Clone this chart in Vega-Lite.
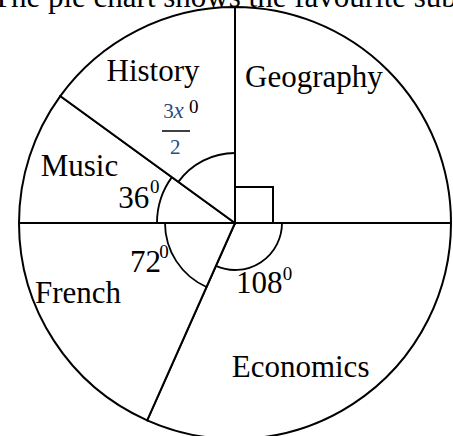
{
  "$schema": "https://vega.github.io/schema/vega-lite/v6.json",
  "width": 453,
  "height": 436,
  "padding": 0,
  "autosize": {"type": "none"},
  "background": "white",
  "config": {"view": {"stroke": null}},
  "datasets": {
    "sectors": [
      {"subject": "Geography", "angle": 90, "o": 1},
      {"subject": "Economics", "angle": 114, "o": 2},
      {"subject": "French", "angle": 66, "o": 3},
      {"subject": "Music", "angle": 36, "o": 4},
      {"subject": "History", "angle": 54, "o": 5}
    ],
    "arcs70": [
      {"angle": "3x/2", "from": 306, "to": 360},
      {"angle": "72", "from": 204, "to": 270}
    ],
    "arcs77": [
      {"angle": "36", "from": 270, "to": 306}
    ],
    "arcs47": [
      {"angle": "108", "from": 90, "to": 204}
    ],
    "square": [
      {"x0": 0, "x1": 38, "y0": 0, "y1": 36}
    ],
    "bar": [
      {"x0": -73, "x1": -45, "y0": 92}
    ],
    "texts": [
      {"kind": "main", "text": "The pie chart shows the favourite subjects of", "lx": -243, "ly": 216},
      {"kind": "main", "text": "History", "lx": -128.5, "ly": 142.3},
      {"kind": "main", "text": "Geography", "lx": 10, "ly": 136},
      {"kind": "main", "text": "Music", "lx": -194.3, "ly": 47},
      {"kind": "main", "text": "36", "lx": -116.7, "ly": 14.7},
      {"kind": "main", "text": "72", "lx": -105, "ly": -49},
      {"kind": "main", "text": "French", "lx": -200, "ly": -80},
      {"kind": "main", "text": "108", "lx": 1, "ly": -69.7},
      {"kind": "main", "text": "Economics", "lx": -3.3, "ly": -153.7},
      {"kind": "sup", "text": "0", "lx": -85, "ly": 30},
      {"kind": "sup", "text": "0", "lx": -75.7, "ly": -35},
      {"kind": "sup", "text": "0", "lx": 47.7, "ly": -57},
      {"kind": "sup", "text": "0", "lx": -46, "ly": 109.7},
      {"kind": "frac", "text": "3", "lx": -71.7, "ly": 104.7},
      {"kind": "fracx", "text": "x", "lx": -61.5, "ly": 104.7},
      {"kind": "frac", "text": "2", "lx": -65, "ly": 69}
    ]
  },
  "layer": [
    {
      "data": {"name": "sectors"},
      "mark": {"type": "arc", "outerRadius": 216, "fill": "white", "stroke": "black", "strokeWidth": 2},
      "encoding": {
        "x": {"datum": 0, "type": "quantitative", "scale": {"domain": [-235, 218], "nice": false, "zero": false}, "axis": null},
        "y": {"datum": 0, "type": "quantitative", "scale": {"domain": [-213, 223], "nice": false, "zero": false}, "axis": null},
        "theta": {"field": "angle", "type": "quantitative", "stack": true, "scale": {"domain": [0, 360]}},
        "order": {"field": "o", "type": "quantitative"}
      }
    },
    {
      "data": {"name": "arcs70"},
      "mark": {"type": "arc", "outerRadius": 70, "innerRadius": 70, "fill": "transparent", "stroke": "black", "strokeWidth": 1.8},
      "encoding": {
        "x": {"datum": 0, "type": "quantitative"},
        "y": {"datum": 0, "type": "quantitative"},
        "theta": {"field": "from", "type": "quantitative", "stack": null, "scale": {"domain": [0, 360]}},
        "theta2": {"field": "to"}
      }
    },
    {
      "data": {"name": "arcs77"},
      "mark": {"type": "arc", "outerRadius": 78, "innerRadius": 78, "fill": "transparent", "stroke": "black", "strokeWidth": 1.8},
      "encoding": {
        "x": {"datum": 0, "type": "quantitative"},
        "y": {"datum": 0, "type": "quantitative"},
        "theta": {"field": "from", "type": "quantitative", "stack": null, "scale": {"domain": [0, 360]}},
        "theta2": {"field": "to"}
      }
    },
    {
      "data": {"name": "arcs47"},
      "mark": {"type": "arc", "outerRadius": 47, "innerRadius": 47, "fill": "transparent", "stroke": "black", "strokeWidth": 1.8},
      "encoding": {
        "x": {"datum": 0, "type": "quantitative"},
        "y": {"datum": 0, "type": "quantitative"},
        "theta": {"field": "from", "type": "quantitative", "stack": null, "scale": {"domain": [0, 360]}},
        "theta2": {"field": "to"}
      }
    },
    {
      "data": {"name": "square"},
      "mark": {"type": "rect", "fill": "transparent", "stroke": "black", "strokeWidth": 2},
      "encoding": {
        "x": {"field": "x0", "type": "quantitative"},
        "x2": {"field": "x1"},
        "y": {"field": "y0", "type": "quantitative"},
        "y2": {"field": "y1"}
      }
    },
    {
      "data": {"name": "bar"},
      "mark": {"type": "rule", "stroke": "black", "strokeWidth": 1.5},
      "encoding": {
        "x": {"field": "x0", "type": "quantitative"},
        "x2": {"field": "x1"},
        "y": {"field": "y0", "type": "quantitative"}
      }
    },
    {
      "data": {"name": "texts"},
      "transform": [{"filter": "datum.kind === 'main'"}],
      "mark": {"type": "text", "font": "Liberation Serif", "fontSize": 31, "align": "left", "baseline": "alphabetic", "color": "black"},
      "encoding": {
        "x": {"field": "lx", "type": "quantitative"},
        "y": {"field": "ly", "type": "quantitative"},
        "text": {"field": "text"}
      }
    },
    {
      "data": {"name": "texts"},
      "transform": [{"filter": "datum.kind === 'sup'"}],
      "mark": {"type": "text", "font": "Liberation Serif", "fontSize": 19, "align": "left", "baseline": "alphabetic", "color": "black"},
      "encoding": {
        "x": {"field": "lx", "type": "quantitative"},
        "y": {"field": "ly", "type": "quantitative"},
        "text": {"field": "text"}
      }
    },
    {
      "data": {"name": "texts"},
      "transform": [{"filter": "datum.kind === 'frac'"}],
      "mark": {"type": "text", "font": "Liberation Serif", "fontSize": 21, "align": "left", "baseline": "alphabetic", "color": "#2b4c7e"},
      "encoding": {
        "x": {"field": "lx", "type": "quantitative"},
        "y": {"field": "ly", "type": "quantitative"},
        "text": {"field": "text"}
      }
    },
    {
      "data": {"name": "texts"},
      "transform": [{"filter": "datum.kind === 'fracx'"}],
      "mark": {"type": "text", "font": "Liberation Serif", "fontSize": 23, "fontStyle": "italic", "align": "left", "baseline": "alphabetic", "color": "#2b4c7e"},
      "encoding": {
        "x": {"field": "lx", "type": "quantitative"},
        "y": {"field": "ly", "type": "quantitative"},
        "text": {"field": "text"}
      }
    }
  ]
}
